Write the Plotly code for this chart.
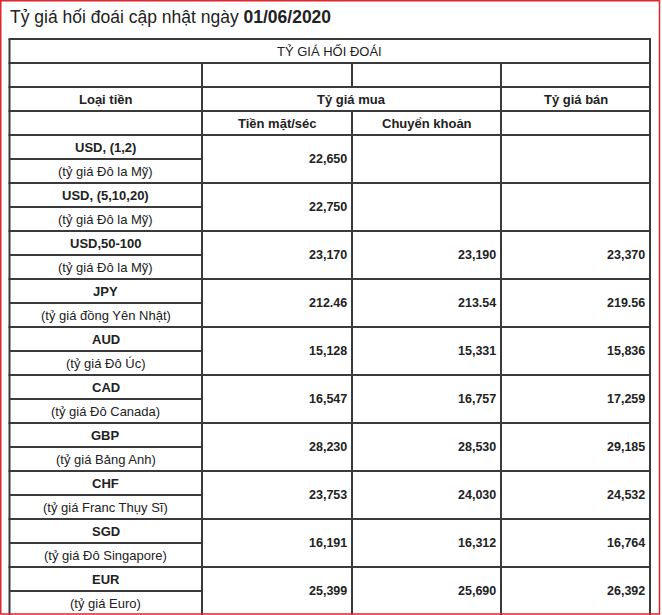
import plotly.graph_objects as go

# ---------------- data ----------------
title_text = "Tỷ giá hối đoái cập nhật ngày "
title_date = "01/06/2020"
table_title = "TỶ GIÁ HỐI ĐOÁI"
header_currency = "Loại tiền"
header_buy = "Tỷ giá mua"
header_sell = "Tỷ giá bán"
sub_cash = "Tiền mặt/séc"
sub_transfer = "Chuyển khoản"

codes = ["USD, (1,2)", "USD, (5,10,20)", "USD,50-100", "JPY", "AUD", "CAD",
         "GBP", "CHF", "SGD", "EUR"]
descriptions = ["(tỷ giá Đô la Mỹ)", "(tỷ giá Đô la Mỹ)", "(tỷ giá Đô la Mỹ)",
                "(tỷ giá đồng Yên Nhật)", "(tỷ giá Đô Úc)", "(tỷ giá Đô Canada)",
                "(tỷ giá Bảng Anh)", "(tỷ giá Franc Thụy Sĩ)",
                "(tỷ giá Đô Singapore)", "(tỷ giá Euro)"]
buy_cash = ["22,650", "22,750", "23,170", "212.46", "15,128", "16,547",
            "28,230", "23,753", "16,191", "25,399"]
buy_transfer = ["", "", "23,190", "213.54", "15,331", "16,757",
                "28,530", "24,030", "16,312", "25,690"]
sell = ["", "", "23,370", "219.56", "15,836", "17,259",
        "29,185", "24,532", "16,764", "26,392"]

# ---------------- layout constants ----------------
W, H = 662, 615
col_x = [9.5, 202, 352, 501, 650]
top = 39
hdr_h = 24
data_top = top + 4 * hdr_h
row_h = 48
LINE = dict(color="#3a3a3a", width=2)
FONT = "Liberation Sans, Arial, sans-serif"
TXT = "#222222"

fig = go.Figure()
fig.add_trace(go.Scatter(x=[0, W], y=[0, H], mode="markers",
                         marker=dict(opacity=0), hoverinfo="skip", showlegend=False))

shapes = []


def hline(y, x0, x1):
    shapes.append(dict(type="line", xref="x", yref="y", x0=x0, x1=x1, y0=y, y1=y, line=LINE))


def vline(x, y0, y1):
    shapes.append(dict(type="line", xref="x", yref="y", x0=x, x1=x, y0=y0, y1=y1, line=LINE))


n = len(codes)
bottom = H + 5
# horizontal lines
for i in range(5):
    hline(top + i * hdr_h, col_x[0] - 1, col_x[-1] + 1)
for k in range(1, n):
    hline(data_top + k * row_h, col_x[0] - 1, col_x[-1] + 1)
for k in range(n):
    hline(data_top + k * row_h + row_h / 2, col_x[0], col_x[1])
# vertical lines
vline(col_x[0], top, bottom)
vline(col_x[-1], top, bottom)
vline(col_x[1], top + hdr_h, bottom)
vline(col_x[3], top + hdr_h, bottom)
vline(col_x[2], top + hdr_h, top + 2 * hdr_h)
vline(col_x[2], top + 3 * hdr_h, bottom)

# red frame
shapes.append(dict(type="rect", xref="x", yref="y", x0=0.75, x1=659.5, y0=0.75, y1=614,
                   line=dict(color="#e0262c", width=1.5)))

ann = []


def text(x, y, s, anchor="center", bold=False, size=13):
    ann.append(dict(x=x, y=y, xref="x", yref="y", text=("<b>%s</b>" % s) if bold else s,
                    showarrow=False, xanchor=anchor, yanchor="middle",
                    font=dict(family=FONT, size=size, color=TXT)))


ann.append(dict(x=8, y=17, xref="x", yref="y", xanchor="left", yanchor="middle",
                text=title_text + "<b>" + title_date + "</b>", showarrow=False,
                font=dict(family=FONT, size=17.5, color=TXT)))

cx = [(col_x[i] + col_x[i + 1]) / 2 for i in range(4)]
text((col_x[0] + col_x[-1]) / 2, top + hdr_h / 2, table_title)
y3 = top + 2.5 * hdr_h
text(cx[0], y3, header_currency, bold=True)
text((col_x[1] + col_x[3]) / 2, y3, header_buy, bold=True)
text(cx[3], y3, header_sell, bold=True)
y4 = top + 3.5 * hdr_h
text(cx[1], y4, sub_cash, bold=True)
text(cx[2], y4, sub_transfer, bold=True)

for k in range(n):
    y0 = data_top + k * row_h
    text(cx[0], y0 + row_h / 4, codes[k], bold=True)
    text(cx[0], y0 + 3 * row_h / 4, descriptions[k])
    for j, vals in enumerate([buy_cash, buy_transfer, sell]):
        if vals[k]:
            text(col_x[j + 2] - 3, y0 + row_h / 2, vals[k], anchor="right", bold=True, size=12.5)

fig.update_layout(
    width=W, height=H, margin=dict(l=0, r=0, t=0, b=0),
    paper_bgcolor="white", plot_bgcolor="white",
    xaxis=dict(range=[0, W], visible=False, fixedrange=True),
    yaxis=dict(range=[H, 0], visible=False, fixedrange=True),
    shapes=shapes, annotations=ann, showlegend=False,
)
fig.write_html("out.html", config={"displayModeBar": False},
               post_script="document.body.style.margin='0';document.body.style.padding='0';")
